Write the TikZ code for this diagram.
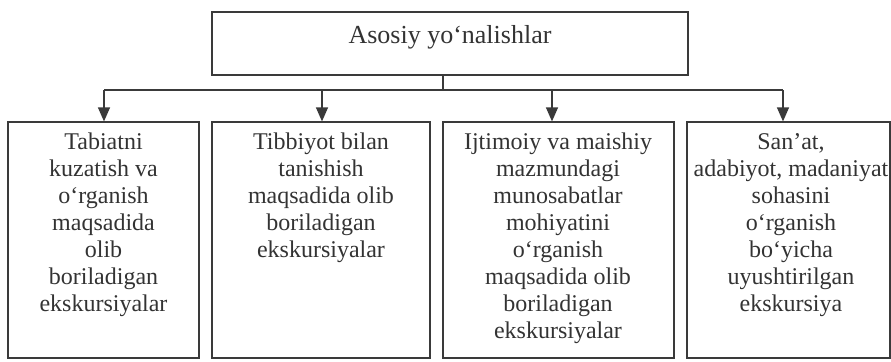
\documentclass[tikz,border=0pt]{standalone}
\usepackage{fontspec}
\setmainfont{Liberation Serif}
\usetikzlibrary{arrows.meta}
\definecolor{linegray}{HTML}{3A3A3A}
\definecolor{textgray}{HTML}{333333}
\tikzset{
  box/.style={draw=linegray, line width=0.6pt, rectangle, inner sep=0pt, minimum height=118pt},
  boxtext/.style={anchor=north, align=center, text=textgray, inner sep=0pt, font=\fontsize{12}{13.5}\selectfont},
  link/.style={draw=linegray, line width=0.6pt},
  feed/.style={link, -{Triangle[length=7pt,width=6pt]}}
}

\begin{document}
\begin{tikzpicture}[x=0.5pt,y=-0.5pt]
\useasboundingbox (0,0) rectangle (891,361);
\draw 	(450,43.5) node[box, minimum width=238pt, minimum height=31.5pt](top){}
		(103.5,240) node[box, minimum width=95.5pt](b1){}   (321,240) node[box, minimum width=109pt](b2){}
		(558.5,240) node[box, minimum width=115.5pt](b3){}  (788.5,240) node[box, minimum width=101.5pt](b4){};

% first line baseline at 149, \strut height is 18.9 units above it
\node[boxtext, anchor=base, font=\fontsize{13}{15}\selectfont] (t0) at (450,43) {Asosiy yo‘nalishlar};
\node[boxtext] (t1) at (103.5,130.1) {\strut Tabiatni\\kuzatish va\\o‘rganish\\maqsadida\\olib\\boriladigan\\ekskursiyalar};
\node[boxtext] (t2) at (321,130.1) {\strut Tibbiyot bilan\\tanishish\\maqsadida olib\\boriladigan\\ekskursiyalar};
\node[boxtext] (t3) at (558,130.1) {\strut Ijtimoiy va maishiy\\mazmundagi\\munosabatlar\\mohiyatini\\o‘rganish\\maqsadida olib\\boriladigan\\ekskursiyalar};
\node[boxtext] (t4) at (791,130.1) {\strut San’at,\\adabiyot, madaniyat\\sohasini\\o‘rganish\\bo‘yicha\\uyushtirilgan\\ekskursiya};

\coordinate (hub) at (443,90);
\coordinate (j1) at (104,90);  \coordinate (j2) at (322,90);
\coordinate (j3) at (552,90);  \coordinate (j4) at (783,90);
\path
    (top.south -| hub) edge[link] (hub)
    (j1) edge[link] (j4);
\path
    (j1) edge[feed] (j1 |- b1.north)
    (j2) edge[feed] (j2 |- b2.north)
    (j3) edge[feed] (j3 |- b3.north)
    (j4) edge[feed] (j4 |- b4.north);
\end{tikzpicture}
\end{document}
